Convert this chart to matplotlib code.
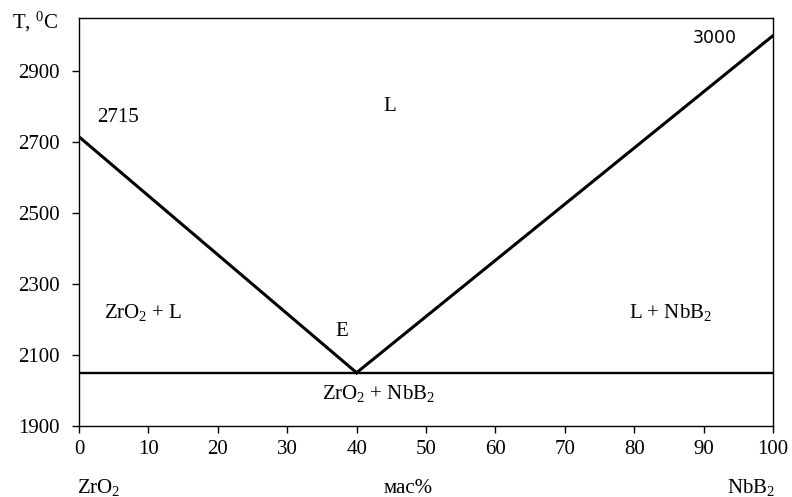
import matplotlib.pyplot as plt

# phase diagram ZrO2 - NbB2
liq_left_x = [0, 40]
liq_left_t = [2715, 2050]
liq_right_x = [40, 100]
liq_right_t = [2050, 3000]
eut_x = [0, 100]
eut_t = [2050, 2050]

x_ticks = [0, 10, 20, 30, 40, 50, 60, 70, 80, 90, 100]
y_ticks = [1900, 2100, 2300, 2500, 2700, 2900]

serif = 'Liberation Serif'
plt.rcParams['mathtext.fontset'] = 'custom'
plt.rcParams['mathtext.rm'] = serif
plt.rcParams['mathtext.it'] = serif + ':italic'
plt.rcParams['mathtext.bf'] = serif + ':bold'

FS = 15


def main():
    fig = plt.figure(figsize=(7.92, 4.97), dpi=100)
    ax = fig.add_axes([0.0997, 0.143, 0.8763, 0.821])

    ax.plot(liq_left_x, liq_left_t, color='black', linewidth=2.2)
    ax.plot(liq_right_x, liq_right_t, color='black', linewidth=2.2)
    ax.plot(eut_x, eut_t, color='black', linewidth=1.7)

    ax.set_xlim(0, 100)
    ax.set_ylim(1900, 3050)
    ax.set_xticks(x_ticks)
    ax.set_yticks(y_ticks)
    ax.tick_params(direction='out', length=5, width=1, labelsize=FS)
    ax.tick_params(axis='x', pad=5)
    ax.tick_params(axis='y', pad=9)
    for lab in ax.get_xticklabels() + ax.get_yticklabels():
        lab.set_fontfamily(serif)
    for s in ax.spines.values():
        s.set_linewidth(1.0)

    # labels inside the diagram
    ax.text(2.6, 2768, '2715', fontsize=FS, family=serif, va='center')
    ax.text(88.5, 2993, '3000', fontsize=12.5, family='DejaVu Sans', va='center')
    ax.text(44.8, 2801, 'L', fontsize=FS, family=serif, ha='center', va='center')
    ax.text(3.6, 2221, r'ZrO$_2$ + L', fontsize=FS, family=serif, va='center')
    ax.text(37.8, 2165, 'E', fontsize=FS, family=serif, ha='center', va='center')
    ax.text(43.2, 1990, r'ZrO$_2$ + NbB$_2$', fontsize=FS, family=serif, ha='center', va='center')
    ax.text(85.3, 2221, r'L + NbB$_2$', fontsize=FS, family=serif, ha='center', va='center')

    # axis captions
    fig.text(12 / 792, 1 - 28 / 497, r'T, $^0$C', fontsize=FS, family=serif, va='baseline')
    fig.text(77 / 792, 1 - 493 / 497, r'ZrO$_2$', fontsize=FS, family=serif, va='baseline')
    fig.text(408 / 792, 1 - 493 / 497, 'мас%', fontsize=FS, family=serif, ha='center', va='baseline')
    fig.text(727 / 792, 1 - 493 / 497, r'NbB$_2$', fontsize=FS, family=serif, va='baseline')

    fig.savefig('out.png', dpi=100)


if __name__ == '__main__':
    main()
